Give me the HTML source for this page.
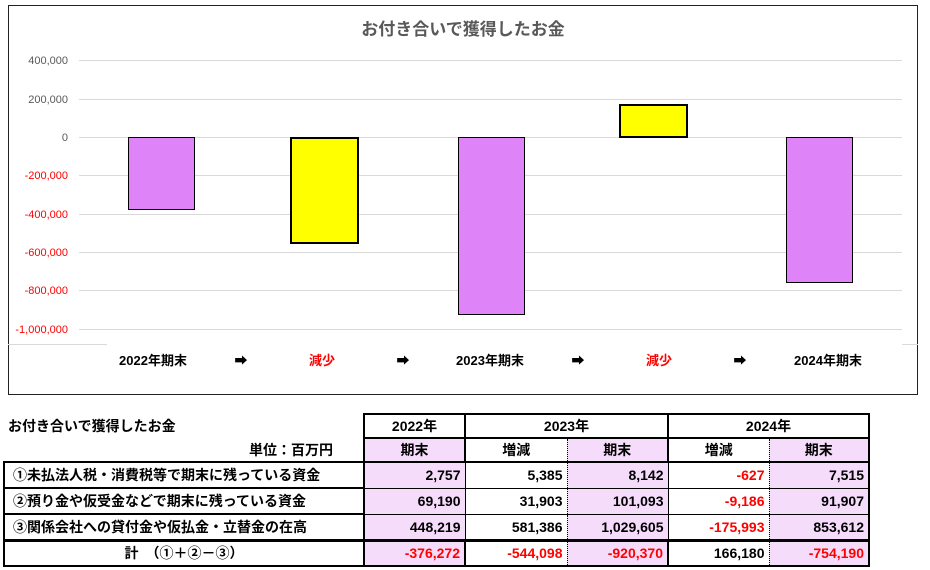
<!DOCTYPE html>
<html><head><meta charset="utf-8"><style>
body{margin:0;width:930px;height:570px;background:#fff;position:relative;overflow:hidden;font-family:"Liberation Sans","Noto Sans CJK JP",sans-serif}
.a{position:absolute}
table{position:absolute;left:3px;top:413px;border-collapse:collapse;font-size:14px;font-weight:bold;color:#000}
td{padding:0 4px;height:24px;box-sizing:border-box}
.p{background:#f6dcfb}
.r{text-align:right}
.c{text-align:center}
.red{color:#ff0000}
</style></head><body>
<svg class="a" style="left:0;top:0" width="930" height="400" font-family="Liberation Sans, Noto Sans CJK JP, sans-serif">
<rect x="8.5" y="5.5" width="909" height="389" fill="#fff" stroke="#222" stroke-width="1"/>
<text x="463" y="35" text-anchor="middle" font-size="17" font-weight="bold" fill="#595959">お付き合いで獲得したお金</text>
<g stroke="#d9d9d9" stroke-width="1">
<line x1="79" x2="902" y1="60.5" y2="60.5"/><line x1="79" x2="902" y1="99.5" y2="99.5"/><line x1="79" x2="902" y1="137.5" y2="137.5"/><line x1="79" x2="902" y1="175.5" y2="175.5"/><line x1="79" x2="902" y1="214.5" y2="214.5"/><line x1="79" x2="902" y1="252.5" y2="252.5"/><line x1="79" x2="902" y1="290.5" y2="290.5"/><line x1="79" x2="902" y1="329.5" y2="329.5"/>
<line x1="8" x2="107" y1="344.5" y2="344.5"/><line x1="902" x2="918" y1="344.5" y2="344.5"/>
</g>
<g font-size="11" text-anchor="end">
<text x="68" y="64" fill="#595959">400,000</text><text x="68" y="103" fill="#595959">200,000</text><text x="68" y="141" fill="#595959">0</text>
<text x="68" y="179" fill="#ff0000">-200,000</text><text x="68" y="218" fill="#ff0000">-400,000</text><text x="68" y="256" fill="#ff0000">-600,000</text><text x="68" y="294" fill="#ff0000">-800,000</text><text x="68" y="333" fill="#ff0000">-1,000,000</text>
</g>
<rect x="128.5" y="137.5" width="66" height="72" fill="#df83f8" stroke="#000" stroke-width="1"/>
<rect x="291" y="138" width="67" height="105" fill="#ffff00" stroke="#000" stroke-width="2"/>
<rect x="458.5" y="137.5" width="66" height="177" fill="#df83f8" stroke="#000" stroke-width="1"/>
<rect x="620" y="105" width="67" height="32" fill="#ffff00" stroke="#000" stroke-width="2"/>
<rect x="786.5" y="137.5" width="66" height="145" fill="#df83f8" stroke="#000" stroke-width="1"/>
<g font-size="13" font-weight="bold" text-anchor="middle">
<text x="153" y="365">2022年期末</text><text x="322" y="365" fill="#ff0000">減少</text><text x="490" y="365">2023年期末</text><text x="659" y="365" fill="#ff0000">減少</text><text x="828" y="365">2024年期末</text>
<text x="241" y="365">➡</text><text x="403" y="365">➡</text><text x="578" y="365">➡</text><text x="740" y="365">➡</text>
</g>
</svg>
<table>
<colgroup><col style="width:360px"><col style="width:101px"><col style="width:102px"><col style="width:101px"><col style="width:101px"><col style="width:100px"></colgroup>
<tr><td style="text-align:left;padding-left:4px">お付き合いで獲得したお金</td><td class="c" style="border:2px solid #000">2022年</td><td class="c" colspan="2" style="border:2px solid #000">2023年</td><td class="c" colspan="2" style="border:2px solid #000">2024年</td></tr>
<tr><td class="r" style="padding-right:30px;border-bottom:2px solid #000">単位：百万円</td><td class="c p" style="border:2px solid #000">期末</td><td class="c" style="border-bottom:2px solid #000;border-right:1px dotted #000">増減</td><td class="c p" style="border:2px solid #000;border-left:0">期末</td><td class="c" style="border-bottom:2px solid #000;border-right:1px dotted #000">増減</td><td class="c p" style="border:2px solid #000;border-left:0">期末</td></tr>
<tr style="height:26px"><td style="border:2px solid #000;padding-left:8px">①未払法人税・消費税等で期末に残っている資金</td><td class="r p" style="border:1px solid #000;border-left:2px solid #000">2,757</td><td class="r" style="border-right:1px dotted #000;border-bottom:1px solid #000">5,385</td><td class="r p" style="border:1px solid #000;border-left:0">8,142</td><td class="r red" style="border-right:1px dotted #000;border-bottom:1px solid #000">-627</td><td class="r p" style="border:1px solid #000;border-right:2px solid #000;border-left:0">7,515</td></tr>
<tr style="height:26px"><td style="border:2px solid #000;padding-left:8px">②預り金や仮受金などで期末に残っている資金</td><td class="r p" style="border:1px solid #000;border-left:2px solid #000">69,190</td><td class="r" style="border-right:1px dotted #000;border-bottom:1px solid #000">31,903</td><td class="r p" style="border:1px solid #000;border-left:0">101,093</td><td class="r red" style="border-right:1px dotted #000;border-bottom:1px solid #000">-9,186</td><td class="r p" style="border:1px solid #000;border-right:2px solid #000;border-left:0">91,907</td></tr>
<tr style="height:26px"><td style="border:2px solid #000;padding-left:8px">③関係会社への貸付金や仮払金・立替金の在高</td><td class="r p" style="border:1px solid #000;border-left:2px solid #000">448,219</td><td class="r" style="border-right:1px dotted #000;border-bottom:1px solid #000">581,386</td><td class="r p" style="border:1px solid #000;border-left:0">1,029,605</td><td class="r red" style="border-right:1px dotted #000;border-bottom:1px solid #000">-175,993</td><td class="r p" style="border:1px solid #000;border-right:2px solid #000;border-left:0">853,612</td></tr>
<tr style="height:26px"><td class="c" style="border:2px solid #000;border-top:3px solid #000">計　（①＋②－③）</td><td class="r p red" style="border:2px solid #000;border-top:3px solid #000">-376,272</td><td class="r red" style="border-right:1px dotted #000;border-bottom:2px solid #000;border-top:3px solid #000">-544,098</td><td class="r p red" style="border:2px solid #000;border-top:3px solid #000;border-left:0">-920,370</td><td class="r" style="border-right:1px dotted #000;border-bottom:2px solid #000;border-top:3px solid #000">166,180</td><td class="r p red" style="border:2px solid #000;border-top:3px solid #000;border-left:0">-754,190</td></tr>
</table>
</body></html>
